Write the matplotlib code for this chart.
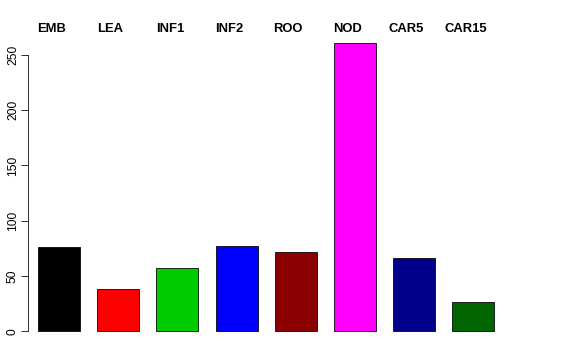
import matplotlib
matplotlib.use("Agg")
import matplotlib.pyplot as plt
import matplotlib.transforms as mtransforms
import numpy as np

# tissue labels and counts
tissues = ["EMB", "LEA", "INF1", "INF2", "ROO", "NOD", "CAR5", "CAR15"]
counts = [76, 38.5, 57.2, 77.4, 71.4, 261, 66, 26.5]
colors = ["black", "#FF0000", "#00CD00", "#0000FF", "#8B0000", "#FF00FF", "#00008B", "#006400"]

plt.rcParams["font.family"] = ["Liberation Sans", "DejaVu Sans"]

W, H = 576, 360
fig = plt.figure(figsize=(W / 72, H / 72), dpi=72)
# plot region in pixels (left, top, right, bottom)
L, T, R, B = 28, 31.1, 548, 342.8
ax = fig.add_axes([L / W, 1 - B / H, (R - L) / W, (B - T) / H])

x = np.arange(len(tissues))
ax.bar(x, counts, width=0.71, color=colors, edgecolor="black", linewidth=0.8)

ymax = max(counts)
ax.set_ylim(-0.04 * ymax, 1.04 * ymax)
# first bar center sits at 59 px, 59.2 px between bars
px = 59.2
ax.set_xlim(-(59 - L) / px, (R - 59) / px)

for s in ["top", "right", "bottom"]:
    ax.spines[s].set_visible(False)
ax.spines["left"].set_bounds(0, 250)
ax.spines["left"].set_linewidth(0.8)
ax.set_xticks([])
ax.set_yticks(np.arange(0, 251, 50))
ax.tick_params(axis="y", length=7, width=0.8, pad=2, labelsize=12)
for lab in ax.get_yticklabels():
    lab.set_rotation(90)
    lab.set_va("center")

# tissue names along the top, shifted a little left of each bar
trans = mtransforms.blended_transform_factory(ax.transData, fig.transFigure)
for i, name in enumerate(tissues):
    ax.text(i - 7.6 / px, 1 - 29.5 / H, name, transform=trans, ha="center",
            va="center", fontsize=13, fontweight="bold", clip_on=False)

fig.savefig("out.png", dpi=72)
